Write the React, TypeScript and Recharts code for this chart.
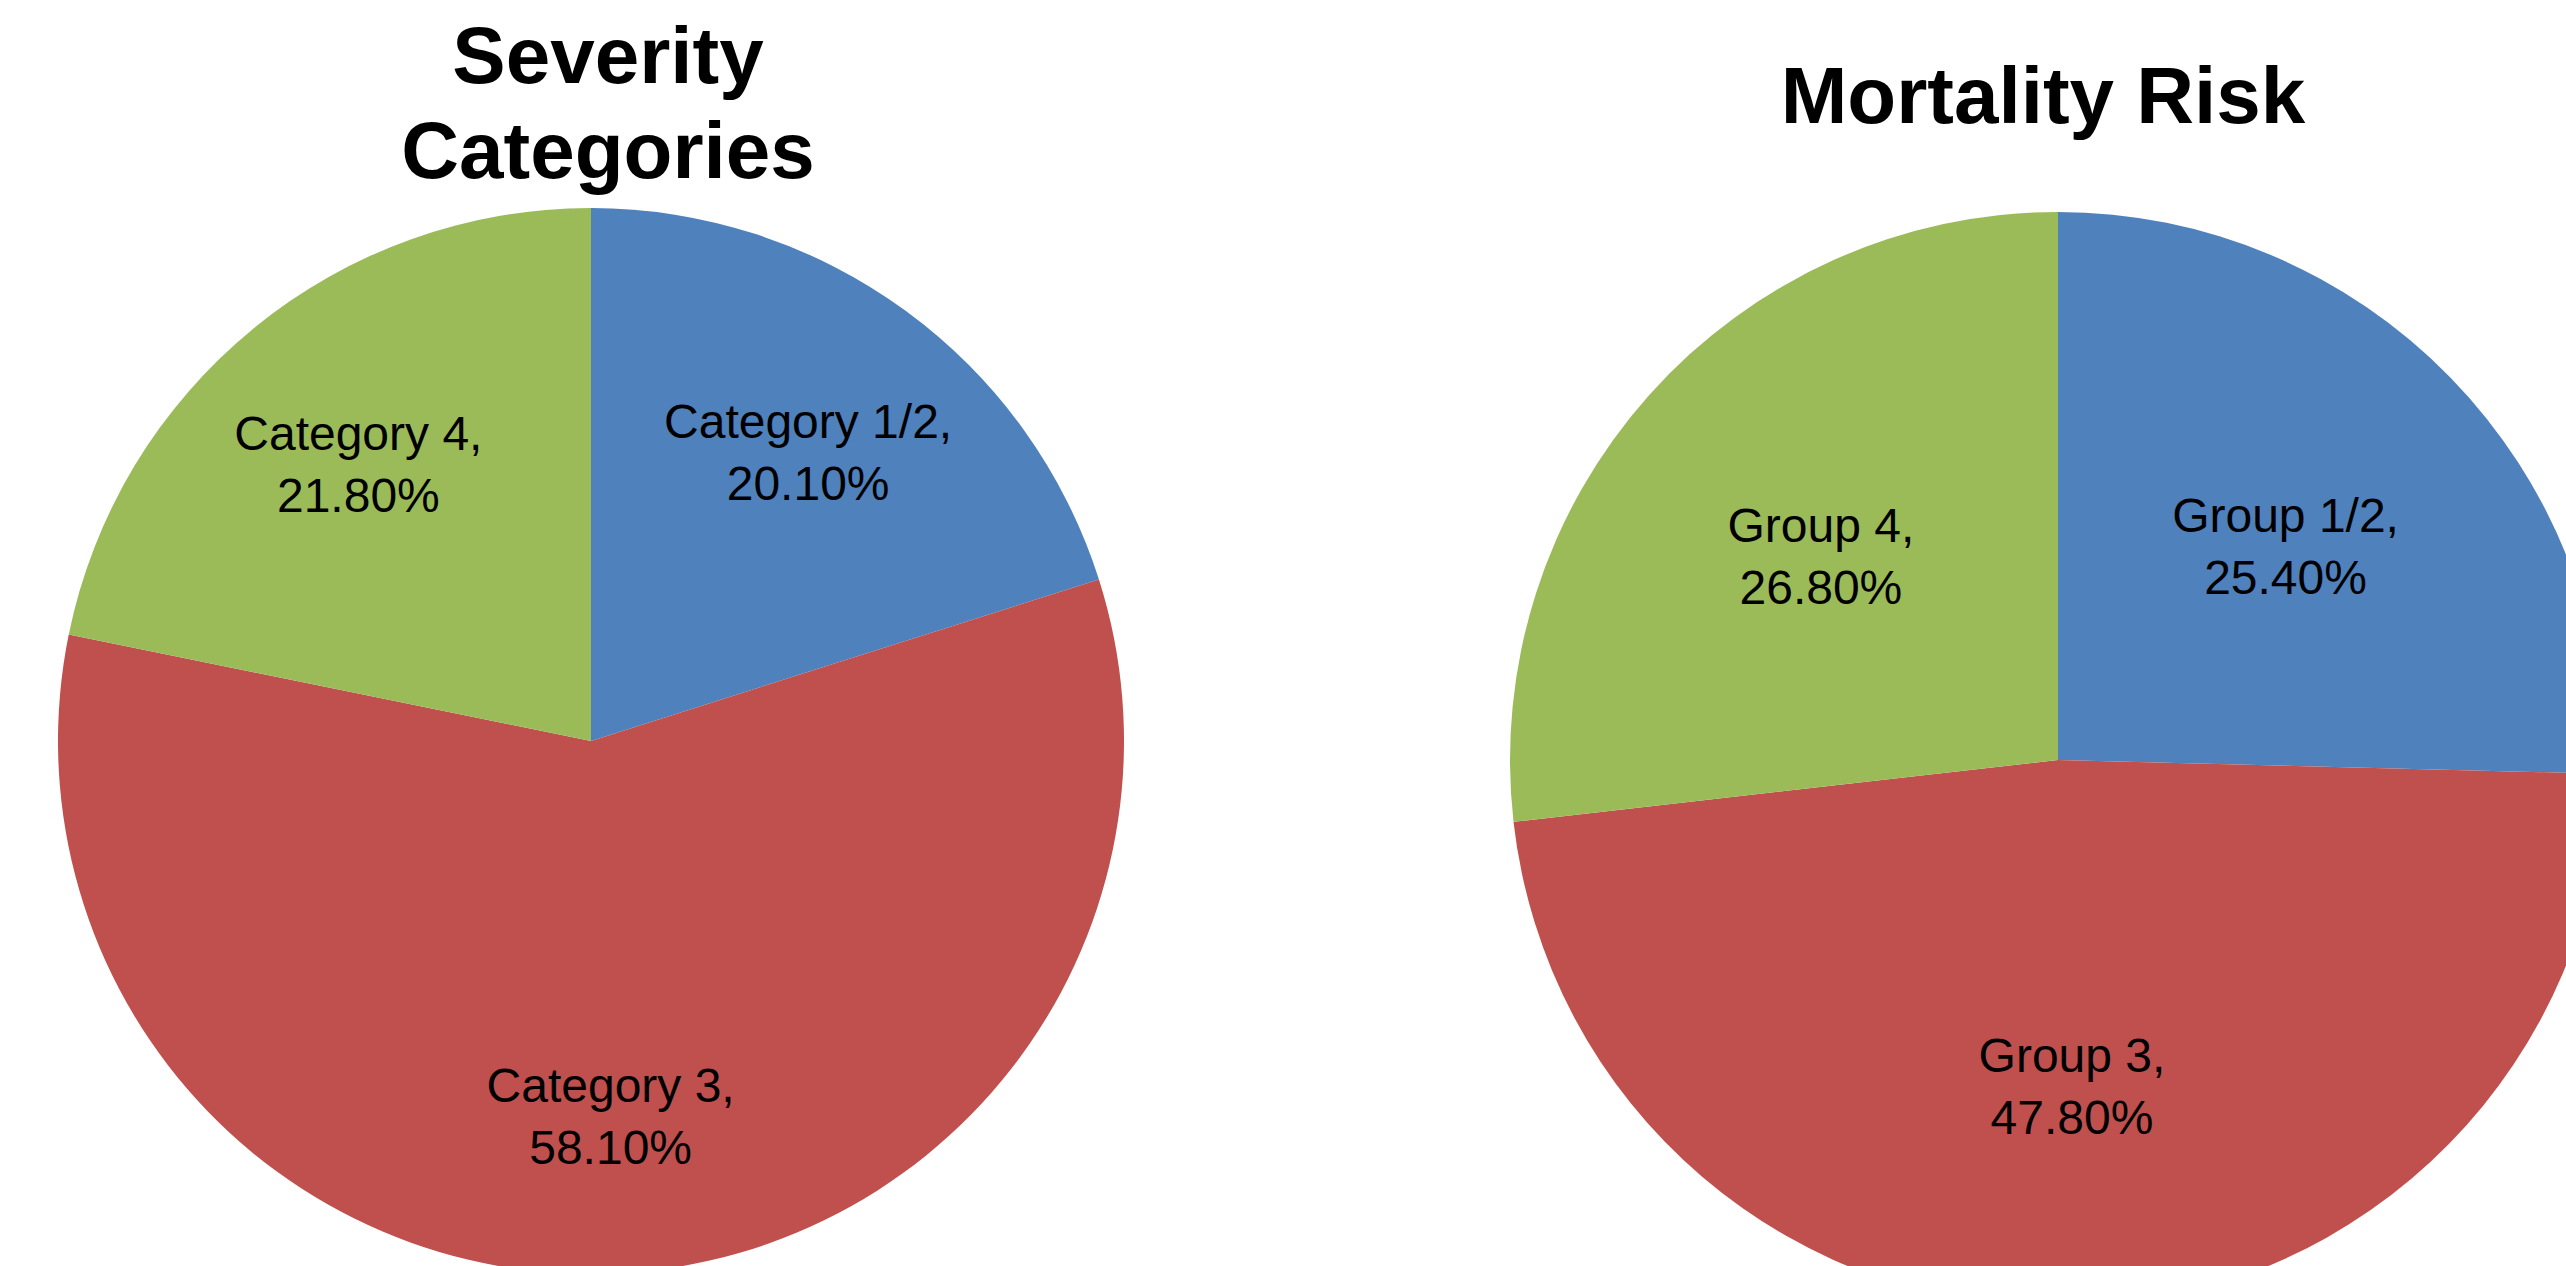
import React from 'react';
import { PieChart, Pie, Cell } from 'recharts';

const severityNames = ['Category 1/2', 'Category 3', 'Category 4'];
const severityValues = [20.1, 58.1, 21.8];

const mortalityNames = ['Group 1/2', 'Group 3', 'Group 4'];
const mortalityValues = [25.4, 47.8, 26.8];

const sliceColors = ['#4F81BD', '#C0504D', '#9BBB59'];

const severityData = severityNames.map((name, i) => ({ name, value: severityValues[i] }));
const mortalityData = mortalityNames.map((name, i) => ({ name, value: mortalityValues[i] }));

const RADIAN = Math.PI / 180;
const labelFont = '"Liberation Sans", Arial, sans-serif';

// data label in two lines: "name," / "value%"
const makeLabel = (ratio: number) => (props: any) => {
  const { cx, cy, midAngle, outerRadius, name, value } = props;
  const r = outerRadius * ratio;
  const x = cx + r * Math.cos(-midAngle * RADIAN);
  const y = cy + r * Math.sin(-midAngle * RADIAN) + 8;
  return (
    <text textAnchor="middle" fontFamily={labelFont} fontSize={48} fill="#000">
      <tspan x={x} y={y - 14}>{`${name},`}</tspan>
      <tspan x={x} y={y + 48}>{`${Number(value).toFixed(2)}%`}</tspan>
    </text>
  );
};

const W = 2566;
const H = 1266;

const App = () => {
  return (
    <div style={{ position: 'absolute', left: 0, top: 0, width: W, height: H, background: '#fff', overflow: 'hidden' }}>
      <PieChart width={W} height={H} margin={{ top: 0, right: 0, bottom: 0, left: 0 }}>
        <Pie
          data={severityData}
          dataKey="value"
          nameKey="name"
          cx={591}
          cy={741}
          outerRadius={533}
          startAngle={90}
          endAngle={-270}
          stroke="none"
          labelLine={false}
          label={makeLabel(0.69)}
          isAnimationActive={false}
        >
          {severityData.map((d, i) => (
            <Cell key={d.name} fill={sliceColors[i]} />
          ))}
        </Pie>
        <Pie
          data={mortalityData}
          dataKey="value"
          nameKey="name"
          cx={2058}
          cy={760}
          outerRadius={548}
          startAngle={90}
          endAngle={-270}
          stroke="none"
          labelLine={false}
          label={makeLabel(0.58)}
          isAnimationActive={false}
        >
          {mortalityData.map((d, i) => (
            <Cell key={d.name} fill={sliceColors[i]} />
          ))}
        </Pie>
      </PieChart>
      <svg width={W} height={H} style={{ position: 'absolute', left: 0, top: 0, pointerEvents: 'none' }}>
        <g fontFamily={labelFont} fontWeight="bold" fontSize={80} fill="#000" textAnchor="middle">
          <text x={608} y={83}>Severity</text>
          <text x={608} y={178}>Categories</text>
          <text x={2043} y={123}>Mortality Risk</text>
        </g>
      </svg>
    </div>
  );
};

export default App;
